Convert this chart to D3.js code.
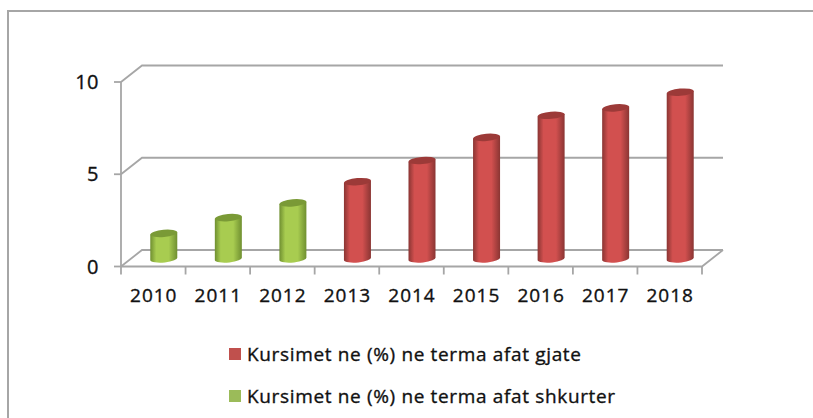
<!DOCTYPE html>
<html>
<head>
<meta charset="utf-8">
<script src="https://cdn.jsdelivr.net/npm/d3@7"></script>
<style>
  html, body { margin: 0; padding: 0; background: #fff; overflow: hidden; }
  text { font-family: "Open Sans", sans-serif; fill: #111; stroke: #111; stroke-width: 0.35; }
</style>
</head>
<body>
<script>
const years = ["2010", "2011", "2012", "2013", "2014", "2015", "2016", "2017", "2018"];
const savingsValues = [1.35, 2.2, 3.0, 4.15, 5.3, 6.55, 7.75, 8.15, 9.0];
const seriesOfYear = ["short", "short", "short", "long", "long", "long", "long", "long", "long"];
const yTicks = [0, 5, 10];
const legendSeries = ["long", "short"];
const legendLabels = ["Kursimet ne (%) ne terma afat gjate", "Kursimet ne (%) ne terma afat shkurter"];

const width = 813, height = 418;
const depthX = 21, depthY = -16.5;

const colors = {
  long: { edge: "#8a3533", mid: "#d2504f", top: "#9c3a38", key: "#c0504d" },
  short: { edge: "#6f8f30", mid: "#a8cc50", top: "#7a9a36", key: "#9bbb59" }
};

const x = d3.scaleBand().domain(years).range([121, 702]);
const y = d3.scaleLinear().domain([0, 10]).range([266.5, 82]);

const svg = d3.select("body").append("svg")
  .attr("width", width).attr("height", height)
  .style("display", "block");

// gradients for cylinders
const defs = svg.append("defs");
Object.keys(colors).forEach(k => {
  const g = defs.append("linearGradient").attr("id", "cyl-" + k);
  g.append("stop").attr("offset", "0%").attr("stop-color", colors[k].edge);
  g.append("stop").attr("offset", "22%").attr("stop-color", colors[k].mid);
  g.append("stop").attr("offset", "68%").attr("stop-color", colors[k].mid);
  g.append("stop").attr("offset", "100%").attr("stop-color", colors[k].edge);
});

// outer frame
svg.append("path").attr("d", "M8,418V11H813")
  .attr("fill", "none").attr("stroke", "#a6a6a6").attr("stroke-width", 2);

const grey = "#a6a6a6";
const grid = svg.append("g").attr("fill", "none").attr("stroke", grey).attr("stroke-width", 1.8);

// back wall lines + side wall diagonals
yTicks.forEach(t => {
  grid.append("path").attr("d", `M${x.range()[0]},${y(t)}l${depthX},${depthY}H${x.range()[1] + depthX}`);
});

// floor
grid.append("path").attr("d", `M${x.range()[0]},${y(0)}H${x.range()[1]}l${depthX},${depthY}`);
// left axis
grid.append("path").attr("d", `M${x.range()[0]},${y(10)}V${y(0)}`);

// axis ticks
yTicks.forEach(t => {
  grid.append("line").attr("x1", x.range()[0] - 7).attr("x2", x.range()[0]).attr("y1", y(t)).attr("y2", y(t));
});
x.domain().concat("end").forEach((d, i) => {
  const px = x.range()[0] + i * x.step();
  grid.append("line").attr("x1", px).attr("x2", px).attr("y1", y(0)).attr("y2", y(0) + 8);
});

// axis labels
svg.append("g").selectAll("text").data(yTicks).join("text")
  .attr("x", 99).attr("y", d => y(d) + 7)
  .attr("text-anchor", "end")
  .attr("font-size", 20).attr("letter-spacing", 0.5)
  .text(d => d);

svg.append("g").selectAll("text").data(years).join("text")
  .attr("x", d => x(d) + x.bandwidth() / 2 + 0.5).attr("y", 302)
  .attr("text-anchor", "middle")
  .attr("font-size", 19).attr("letter-spacing", 1)
  .text(d => d);

// cylinders
const barW = 27, ry = 3.6;
const barX = d => x(d) + x.bandwidth() / 2 + depthX / 2;
const barY = v => y(v) + depthY / 2;

const bars = svg.append("g").selectAll("g").data(years).join("g");
bars.append("path")
  .attr("fill", (d, i) => `url(#cyl-${seriesOfYear[i]})`)
  .attr("d", (d, i) => {
    const l = barX(d) - barW / 2, r = barX(d) + barW / 2;
    const t = barY(savingsValues[i]), b = barY(0);
    return `M${l},${t + 1.2}V${b + 2}A${barW / 2},${ry} -5 0 0 ${r},${b - 0.8}V${t - 1.2}Z`;
  });
bars.append("ellipse")
  .attr("rx", barW / 2).attr("ry", ry)
  .attr("fill", (d, i) => colors[seriesOfYear[i]].top)
  .attr("transform", (d, i) => `translate(${barX(d)},${barY(savingsValues[i])}) rotate(-5)`);

// legend
const legendY = d3.scalePoint().domain(legendSeries).range([354, 396]);
const legend = svg.append("g").selectAll("g").data(legendSeries).join("g")
  .attr("transform", d => `translate(0,${legendY(d)})`);
legend.append("rect")
  .attr("x", 229).attr("y", -6).attr("width", 12).attr("height", 12)
  .attr("fill", d => colors[d].key);
legend.append("text")
  .attr("x", 247).attr("y", 6.5)
  .attr("font-size", 19).attr("letter-spacing", 0.65)
  .text((d, i) => legendLabels[i]);
</script>
</body>
</html>
